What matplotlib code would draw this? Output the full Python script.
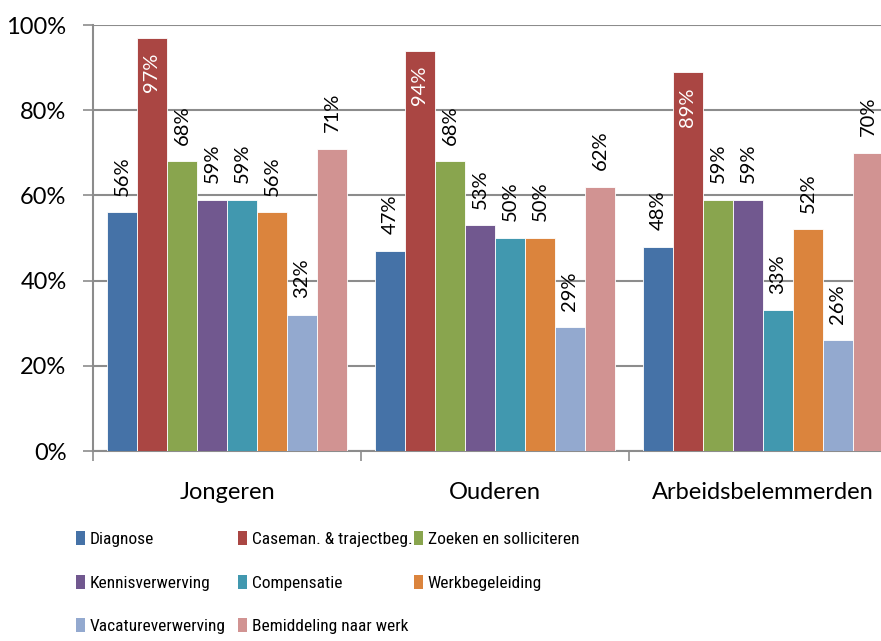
import numpy as np
import matplotlib
matplotlib.use("Agg")
import matplotlib.pyplot as plt
from matplotlib.patches import Patch

plt.rcParams['font.family'] = ['Lato', 'DejaVu Sans']

categories = ["Jongeren", "Ouderen", "Arbeidsbelemmerden"]
series = [
    "Diagnose",
    "Caseman. & trajectbeg.",
    "Zoeken en solliciteren",
    "Kennisverwerving",
    "Compensatie",
    "Werkbegeleiding",
    "Vacatureverwerving",
    "Bemiddeling naar werk",
]
diagnose = [56, 47, 48]
caseman = [97, 94, 89]
zoeken = [68, 68, 59]
kennis = [59, 53, 59]
compensatie = [59, 50, 33]
werkbegeleiding = [56, 50, 52]
vacature = [32, 29, 26]
bemiddeling = [71, 62, 70]
values = [diagnose, caseman, zoeken, kennis, compensatie, werkbegeleiding, vacature, bemiddeling]

colors = ["#4572A7", "#AA4643", "#89A54E", "#71588F",
          "#4198AF", "#DB843D", "#93A9CF", "#D19392"]
GRID = "#8c8c8c"

fig = plt.figure(figsize=(8.81, 6.41), dpi=100)
ax = fig.add_axes([93 / 881, 190 / 641, 804 / 881, 426 / 641])

x = np.arange(len(categories))
bar_w = 30 / 268
handles = []
for i, (name, vals, col) in enumerate(zip(series, values, colors)):
    pos = x + (i - 3.5) * bar_w
    bars = ax.bar(pos, vals, bar_w, color=col, edgecolor="white",
                  linewidth=0.6, zorder=3)
    handles.append(Patch(facecolor=col, edgecolor="none"))
    for b, v in zip(bars, vals):
        cx = b.get_x() + b.get_width() / 2
        if i == 1:
            ax.annotate(f"{v}%", (cx, v), xytext=(0, -11), textcoords="offset points",
                        rotation=90, ha="center", va="top", fontsize=14.5,
                        color="white", zorder=4)
        else:
            ax.annotate(f"{v}%", (cx, v), xytext=(0, 12), textcoords="offset points",
                        rotation=90, ha="center", va="bottom", fontsize=14.5,
                        color="black", zorder=4)

ax.set_xlim(-0.5, 2.5)
ax.set_ylim(0, 100)
ax.set_yticks(np.arange(0, 101, 20))
ax.set_yticklabels([f"{t}%" for t in range(0, 101, 20)], fontsize=17)
ax.yaxis.grid(True, color=GRID, linewidth=1.5, zorder=0)
ax.tick_params(axis="y", length=7, width=1.2, color=GRID, pad=12)

ax.set_xticks(x)
ax.set_xticklabels(categories, fontsize=17)
ax.set_xticks(np.arange(-0.5, 3.0, 1.0), minor=True)
ax.tick_params(axis="x", which="major", length=0, pad=22)
ax.tick_params(axis="x", which="minor", length=7, width=1.2, color=GRID)

for s in ["top", "right"]:
    ax.spines[s].set_visible(False)
for s in ["left", "bottom"]:
    ax.spines[s].set_color(GRID)
    ax.spines[s].set_linewidth(1.5)

# Excel-style legend: equal column widths, filled row by row
legend_font = {"family": ["Roboto Condensed", "Lato"], "size": 12.5}
col_x = [76, 238, 414]
for c, x0 in enumerate(col_x):
    idx = list(range(c, len(series), 3))
    leg = fig.legend([handles[k] for k in idx], [series[k] for k in idx],
                     loc="upper left", bbox_to_anchor=(x0 / 881, 1 - 531 / 641),
                     frameon=False, prop=legend_font, handlelength=0.5,
                     handleheight=0.85, handletextpad=0.3, labelspacing=1.6,
                     borderpad=0, borderaxespad=0)

fig.savefig("out.png", dpi=100)
